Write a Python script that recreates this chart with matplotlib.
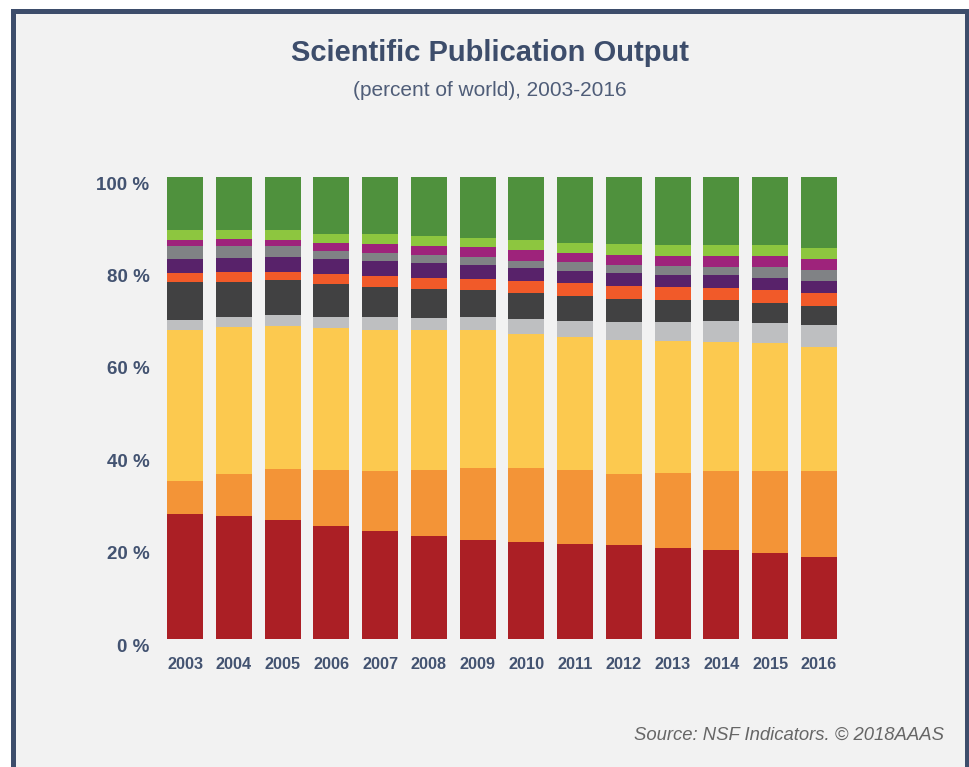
import matplotlib
matplotlib.use("Agg")  # no display in the sandbox
import matplotlib.pyplot as plt
import matplotlib.transforms as mtransforms
from matplotlib.patches import Rectangle
import numpy as np

# share of world publication output (%)
years = ["2003", "2004", "2005", "2006", "2007", "2008", "2009",
         "2010", "2011", "2012", "2013", "2014", "2015", "2016"]

# series listed bottom to top of each stacked bar
red = [27.1, 26.6, 25.8, 24.5, 23.4, 22.3, 21.4, 21.0, 20.6, 20.3, 19.7, 19.3, 18.6, 17.7]
orange = [7.1, 9.1, 11.0, 12.1, 13.0, 14.3, 15.6, 16.0, 16.0, 15.4, 16.2, 17.1, 17.7, 18.6]
yellow = [32.7, 31.8, 31.0, 30.7, 30.5, 30.3, 29.9, 29.0, 28.8, 29.0, 28.6, 27.9, 27.7, 26.8]
light_gray = [2.2, 2.2, 2.4, 2.4, 2.8, 2.6, 2.8, 3.2, 3.5, 3.9, 4.1, 4.5, 4.5, 4.8]
dark_gray = [8.2, 7.6, 7.4, 7.1, 6.5, 6.3, 5.8, 5.6, 5.4, 5.0, 4.8, 4.5, 4.3, 4.1]
orange_red = [1.9, 2.2, 1.9, 2.2, 2.4, 2.4, 2.4, 2.6, 2.8, 2.8, 2.8, 2.6, 2.8, 2.8]
purple = [3.0, 3.0, 3.2, 3.2, 3.2, 3.2, 3.0, 2.8, 2.6, 2.8, 2.6, 2.8, 2.6, 2.6]
gray = [2.8, 2.6, 2.4, 1.7, 1.7, 1.7, 1.7, 1.7, 1.9, 1.7, 1.9, 1.9, 2.4, 2.4]
magenta = [1.3, 1.5, 1.3, 1.9, 1.9, 1.9, 2.2, 2.2, 1.9, 2.2, 2.2, 2.2, 2.2, 2.4]
light_green = [2.2, 1.9, 2.2, 1.9, 2.2, 2.2, 1.9, 2.2, 2.2, 2.4, 2.4, 2.4, 2.4, 2.4]
green = [11.5, 11.5, 11.5, 12.3, 12.4, 12.8, 13.3, 13.7, 14.3, 14.5, 14.8, 14.8, 14.8, 15.4]

y_ticks = [0, 20, 40, 60, 80, 100]

series = [red, orange, yellow, light_gray, dark_gray, orange_red,
          purple, gray, magenta, light_green, green]
colors = ["#ab1f25", "#f39437", "#fcc94f", "#bebfc1", "#414142", "#f15a29",
          "#58226a", "#808285", "#9e237b", "#8dc63f", "#4f913d"]

NAVY = "#3d4d6b"
LABEL = "#435371"
BG = "#f2f2f2"

plt.rcParams["font.family"] = ["Liberation Sans", "DejaVu Sans"]

W, H = 969, 767
fig = plt.figure(figsize=(W / 100, H / 100), dpi=100)
fig.patch.set_facecolor("white")

# framed panel: navy border left/top/right, runs off the bottom edge
frame = Rectangle((12.5 / W, -0.05), (966.5 - 12.5) / W, 1.05 - 10.5 / H,
                  transform=fig.transFigure, facecolor=BG, edgecolor=NAVY,
                  linewidth=3.6, zorder=0)
fig.add_artist(frame)

pitch = 48.77  # px between bar centres in the reference
ax = fig.add_axes([(185 - pitch / 2) / W, 128 / H, 14 * pitch / W, 462 / H])
ax.set_facecolor("none")

x = np.arange(len(years))
bottom = np.zeros(len(years))
for vals, col in zip(series, colors):
    ax.bar(x, vals, width=0.738, bottom=bottom, color=col, linewidth=0)
    bottom += np.array(vals)

ax.set_xlim(-0.5, len(years) - 0.5)
ax.set_ylim(0, 100)
ax.set_xticks(x)
ax.set_xticklabels(years, fontsize=11.7, fontweight="bold", color=LABEL)
ax.set_yticks(y_ticks)
ax.set_yticklabels([f"{t} %" for t in y_ticks], fontsize=13.5,
                   fontweight="bold", color=LABEL)
ax.tick_params(axis="both", length=0)
ax.tick_params(axis="x", pad=13)
ax.tick_params(axis="y", pad=8)
for s in ax.spines.values():
    s.set_visible(False)

# y labels sit a few pixels below their gridline value in the original
shift = mtransforms.ScaledTranslation(0, -0.06, fig.dpi_scale_trans)
for lab in ax.get_yticklabels():
    lab.set_transform(lab.get_transform() + shift)

fig.text(490 / W, 1 - 53 / H, "Scientific Publication Output", ha="center",
         va="center", fontsize=21, fontweight="bold", color=NAVY)
fig.text(490 / W, 1 - 91 / H, "(percent of world), 2003-2016", ha="center",
         va="center", fontsize=15, color="#4f5d78")
fig.text(944 / W, 1 - 735 / H, "Source: NSF Indicators. \u00a9 2018AAAS",
         ha="right", va="center", fontsize=13.3, style="italic", color="#666666")

fig.savefig("out.png", dpi=100, facecolor=fig.get_facecolor())
plt.close(fig)
